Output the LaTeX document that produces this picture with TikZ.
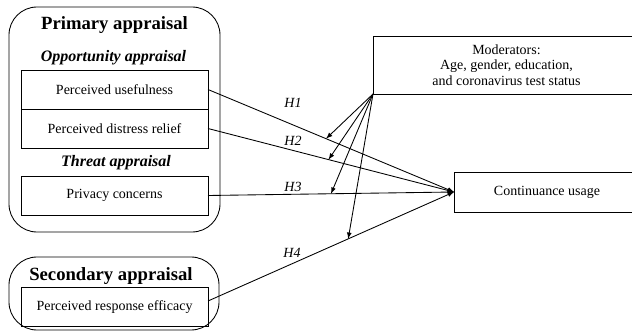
\documentclass[tikz,border=0pt]{standalone}
\usepackage{fontspec}
\setmainfont{Liberation Serif}
\usetikzlibrary{arrows,positioning}

\begin{document}
\begin{tikzpicture} [
    x=0.75pt, y=-0.75pt,
    >=latex,
    line width=0.65pt,
    box/.style={draw,%
      outer sep=0,%
      minimum width=140.25pt,%
      minimum height=29.25pt,%
      font=\fontsize{10.5}{11.5}\selectfont,%
      align=center},
    group/.style={draw,
      outer sep=0,
      rounded corners=21pt},
    head/.style={font=\fontsize{14}{16}\selectfont\bfseries},
    sub/.style={font=\fontsize{12}{14}\selectfont\bfseries\itshape},
    hyp/.style={font=\fontsize{10.5}{12}\selectfont\itshape}
    ]
    \useasboundingbox (0,0) rectangle (632,331);
    % appraisal groups
    \node[group, minimum width=158.25pt, minimum height=168.75pt] (prim) at (114.5,119.5) {};
    \node[group, minimum width=157.5pt, minimum height=54.75pt] (sec) at (114,293.5) {};
    \node[head] (primt) at (114.5,25) {Primary appraisal};
    \node[sub] (opp) at (113.5,58) {Opportunity appraisal};
    \node[box] (pu) at (114.5,89.5) {Perceived usefulness};
    \node[box, below = 0mm of pu] (dr) {Perceived distress relief};
    \node[sub] (thr) at (116,163) {Threat appraisal};
    \node[box] (pc) at (114.5,195.5) {Privacy concerns};
    \node[head] (sect) at (111,276) {Secondary appraisal};
    \node[box] (pre) at (114.5,307) {Perceived response efficacy};
    % moderators and outcome
    \node[box, minimum width=200.25pt, minimum height=43.5pt] (mod) at (506.5,65)
      {Moderators:\\Age, gender, education,\\and coronavirus test status};
    \node[box, minimum width=139.5pt, minimum height=30pt] (cu) at (547,192) {Continuance usage};
    % paths
    \draw[->] (pu.east) -- coordinate[pos=.48] (m1) (cu.west);
    \draw[->] (dr.east) -- coordinate[pos=.49] (m2) (cu.west);
    \draw[->] (pc.east) -- coordinate[pos=.50] (m3) (cu.west);
    \draw[->] ([yshift=4.5pt]pre.east) -- coordinate[pos=.57] (m4) (cu.west);
    \foreach \i in {1,...,4}
      \draw[->] (mod.south west) -- (m\i);
    \foreach \i/\x/\y in {1/293/103,2/293/141,3/293/187,4/292/253}
      \node[hyp] (h\i) at (\x,\y) {H\i};
  \end{tikzpicture}
\end{document}
